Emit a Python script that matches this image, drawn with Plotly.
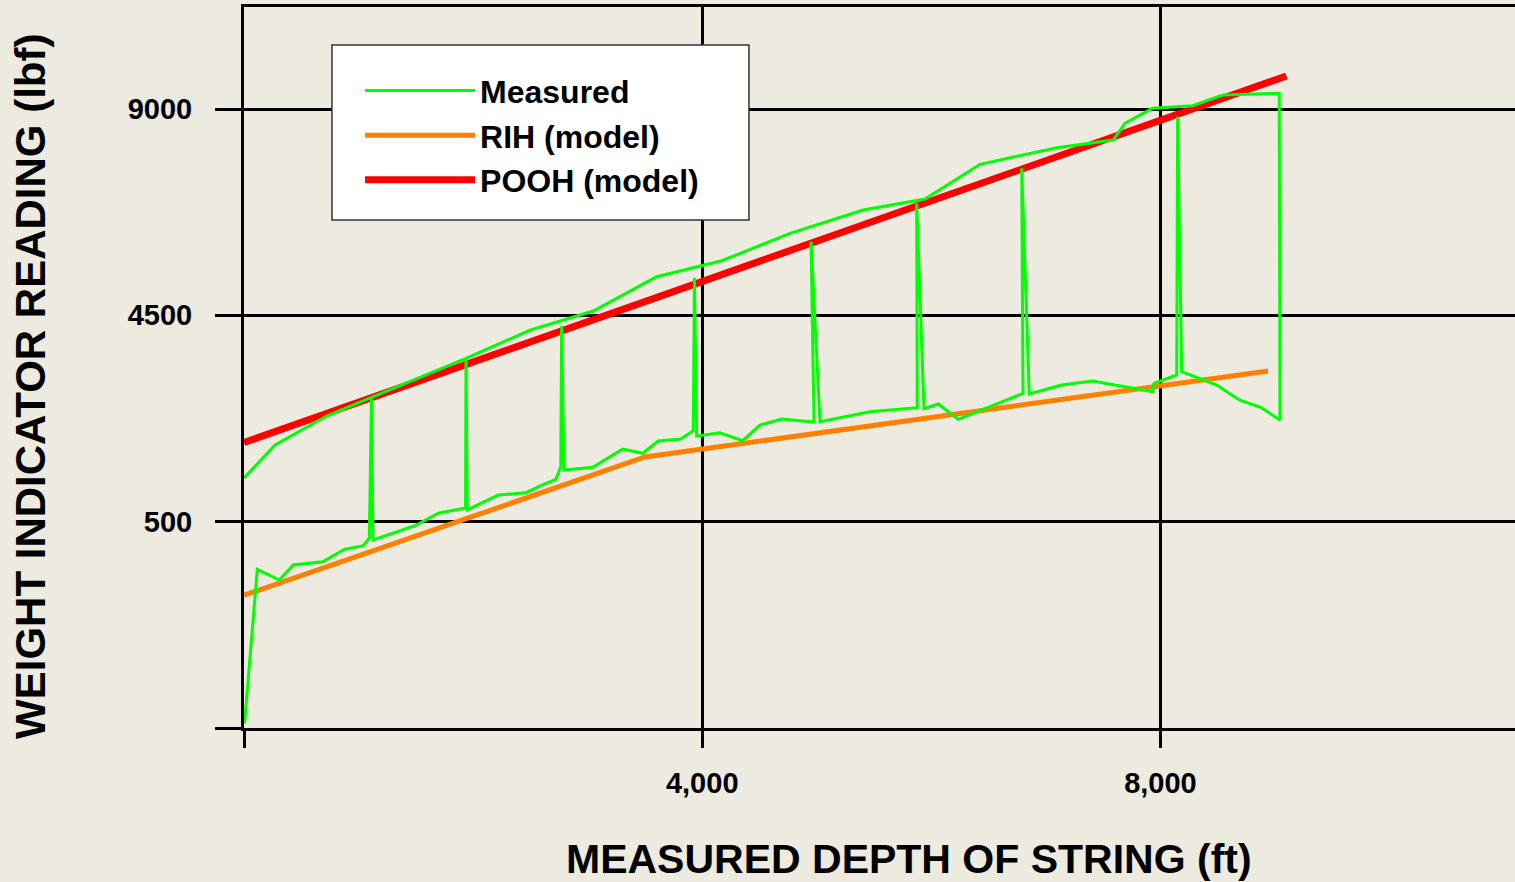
import plotly.graph_objects as go

# ---- data ----
measured_depth = [5, 116, 308, 430, 687, 876, 1041, 1094, 1113, 1126, 1493, 1696, 1934, 1938, 1949,
                  2220, 2462, 2599, 2723, 2765, 2773, 2793, 3044, 3306, 3480, 3616, 3812, 3922, 3932,
                  3952, 4155, 4353, 4504, 4694, 4976, 4950, 5028, 5464, 5877, 5872, 5936, 6061, 6235,
                  6497, 6800, 6789, 6855, 7138, 7408, 7763, 7932, 7944, 8142, 8150, 8185, 8491, 8688,
                  8875, 9043, 9037, 8543, 8281, 7929, 7690, 7588, 7094, 6425, 5945, 5406, 4766, 4170,
                  3602, 3049, 2497, 1938, 1129, 722, 271, 0]
measured_load = [70, 2307, 2152, 2370, 2418, 2598, 2651, 2758, 4783, 2733, 2941, 3122, 3199, 5365, 3170,
                 3388, 3421, 3533, 3616, 3799, 5845, 3751, 3790, 4056, 3994, 4173, 4202, 4322, 6543,
                 4245, 4293, 4177, 4405, 4493, 4449, 7070, 4453, 4599, 4657, 7629, 4642, 4711, 4488,
                 4663, 4866, 8138, 4856, 4987, 5045, 4939, 4889, 5012, 5132, 8888, 5180, 4987, 4769,
                 4663, 4478, 9228, 9203, 9048, 9010, 8792, 8549, 8437, 8196, 7691, 7531, 7192, 6794,
                 6562, 6063, 5786, 5375, 4817, 4536, 4115, 3635]

rih_depth = [0, 3500, 8940]
rih_load = [1930, 3940, 5190]

pooh_depth = [0, 9100]
pooh_load = [4150, 9480]

x_tickvals = [0, 4000, 8000]
x_ticktext = ["", "4,000", "8,000"]
y_tickvals = [0, 3000, 6000, 9000]
y_ticktext = ["", "500", "4500", "9000"]

FONT = "Liberation Sans, Arial, sans-serif"
BG = "#EDEAE0"

fig = go.Figure()
fig.add_trace(go.Scatter(x=pooh_depth, y=pooh_load, mode="lines", name="POOH (model)",
                         line=dict(color="#FF0000", width=7)))
fig.add_trace(go.Scatter(x=rih_depth, y=rih_load, mode="lines", name="RIH (model)",
                         line=dict(color="#FF8000", width=5)))
fig.add_trace(go.Scatter(x=measured_depth, y=measured_load, mode="lines", name="Measured",
                         line=dict(color="#00FF00", width=3)))

fig.update_layout(
    width=1515, height=882,
    margin=dict(l=244, r=0, t=7, b=154),
    paper_bgcolor=BG, plot_bgcolor=BG,
    font=dict(family=FONT, color="black"),
    showlegend=True,
    legend=dict(
        x=0.0913, y=0.922, xanchor="left", yanchor="top",
        bgcolor="rgba(0,0,0,0)", borderwidth=0,
        traceorder="reversed", itemwidth=110,
        font=dict(family=FONT, size=32, color="black", weight="bold"),
    ),
    shapes=[dict(type="rect", xref="paper", yref="paper",
                 x0=0.0692, x1=0.3973, y0=0.7046, y1=0.9473,
                 fillcolor="white", line=dict(color="#333333", width=1.5), layer="above")],
    annotations=[
        dict(text="WEIGHT INDICATOR READING (lbf)", xref="paper", yref="paper",
             x=-0.168, y=0.4737, xanchor="center", yanchor="middle", textangle=-90,
             showarrow=False, font=dict(family=FONT, size=42, color="black", weight="bold")),
        dict(text="MEASURED DEPTH OF STRING (ft)", xref="paper", yref="paper",
             x=0.5236, y=-0.1815, xanchor="center", yanchor="middle",
             showarrow=False, font=dict(family=FONT, size=41, color="black", weight="bold")),
    ],
)

fig.update_xaxes(
    range=[0, 11095], tickvals=x_tickvals, ticktext=x_ticktext,
    showgrid=True, gridcolor="black", gridwidth=3,
    showline=True, linecolor="black", linewidth=3, mirror=True,
    ticks="outside", ticklen=17, tickwidth=3, tickcolor="black",
    ticklabelstandoff=10,
    tickfont=dict(family=FONT, size=29, color="black", weight="bold"),
    zeroline=False,
)
fig.update_yaxes(
    range=[0, 10483], tickvals=y_tickvals, ticktext=y_ticktext,
    showgrid=True, gridcolor="black", gridwidth=3,
    showline=True, linecolor="black", linewidth=3, mirror=False,
    ticks="outside", ticklen=26, tickwidth=3, tickcolor="black",
    ticklabelstandoff=17,
    tickfont=dict(family=FONT, size=29, color="black", weight="bold"),
    zeroline=False,
)

fig.write_html("out.html", config={"displayModeBar": False},
               post_script="document.body.style.margin='0';document.body.style.overflow='hidden';")
